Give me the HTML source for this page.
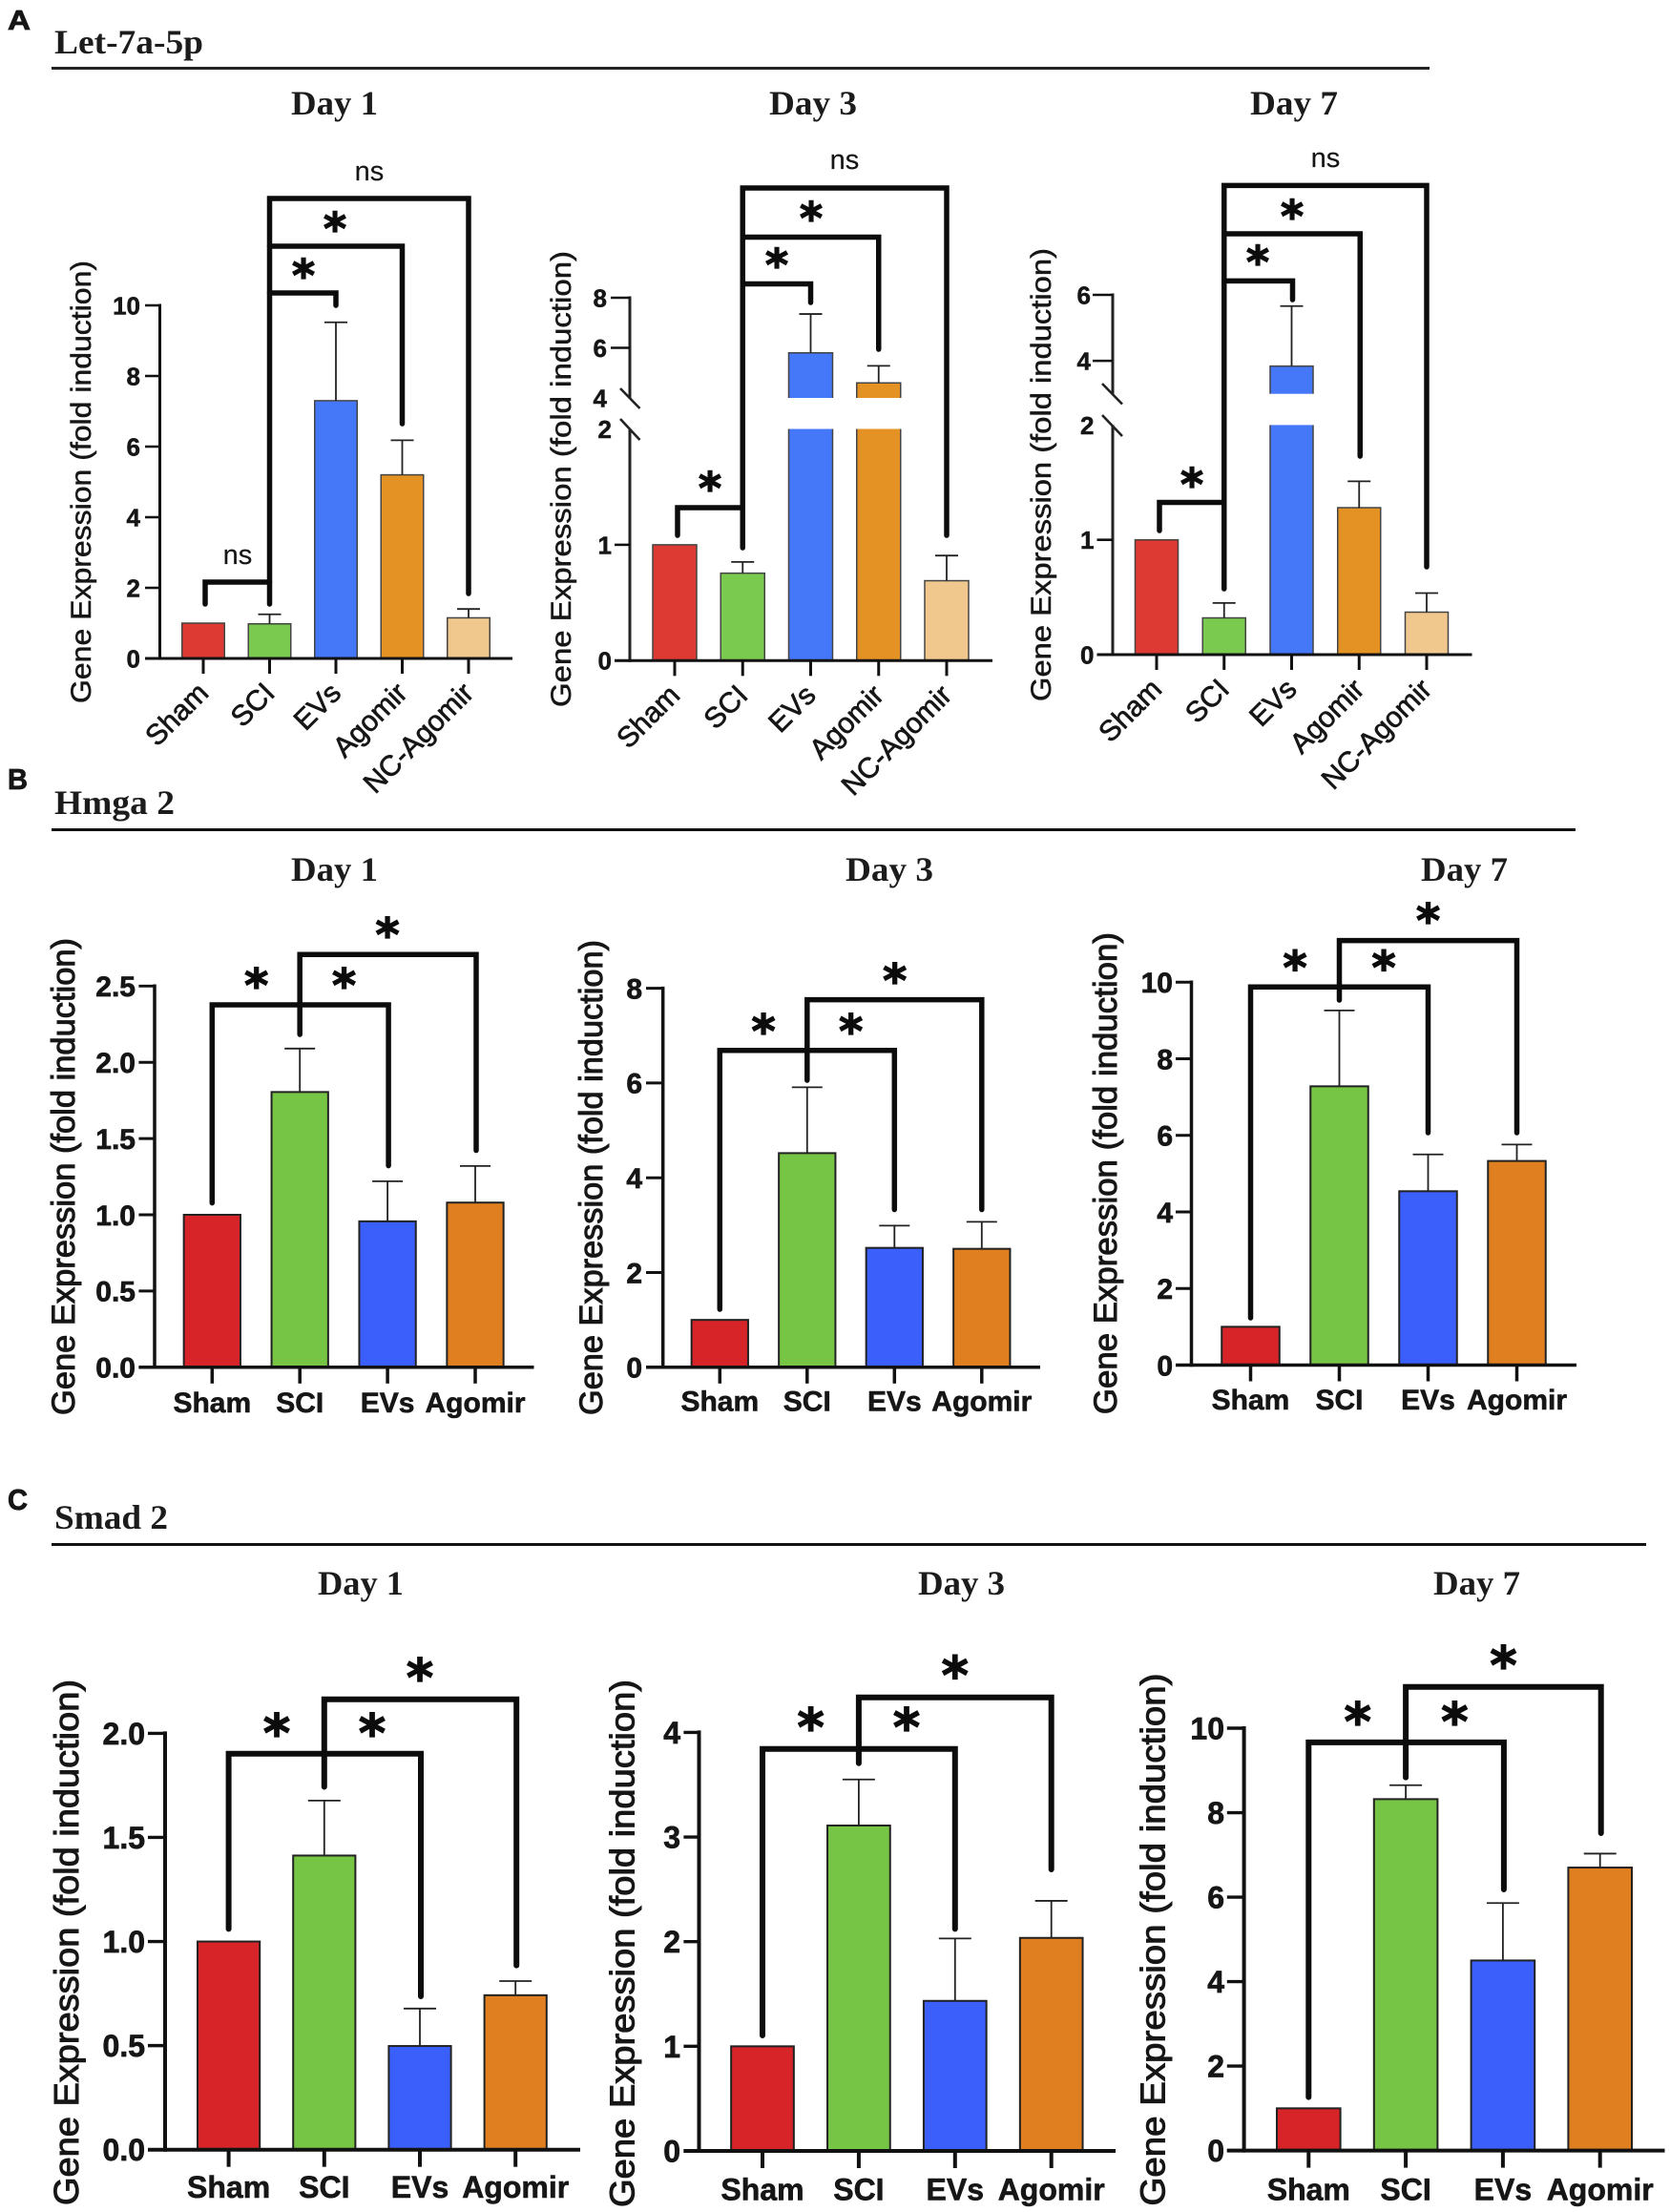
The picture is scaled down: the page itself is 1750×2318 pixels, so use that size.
<!DOCTYPE html>
<html lang="en">
<head>
<meta charset="utf-8">
<title>Gene expression bar charts</title>
<style>
html,body{margin:0;padding:0;background:#fff;}
svg{display:block;}
.serif{font-family:"Liberation Serif",serif;font-weight:bold;fill:#1c1c1c;}
.sans{font-family:"Liberation Sans",sans-serif;fill:#161616;}
</style>
</head>
<body>
<svg id="figure" xmlns="http://www.w3.org/2000/svg" width="1750" height="2318" viewBox="0 0 1750 2318">
  <rect x="0" y="0" width="1750" height="2318" fill="#fff"/>

  <text class="sans" x="8" y="31" font-size="29" font-weight="bold" stroke="#161616" stroke-width="0.8" textLength="24" lengthAdjust="spacingAndGlyphs">A</text>
  <text class="serif" x="57" y="56" font-size="36" textLength="156" lengthAdjust="spacingAndGlyphs">Let-7a-5p</text>
  <rect x="54" y="70" width="1444" height="3" fill="#222"/>
  <text class="serif" x="305" y="120" font-size="36" textLength="91" lengthAdjust="spacingAndGlyphs">Day 1</text>
  <text class="serif" x="806" y="120" font-size="36" textLength="92" lengthAdjust="spacingAndGlyphs">Day 3</text>
  <text class="serif" x="1310" y="120" font-size="36" textLength="92" lengthAdjust="spacingAndGlyphs">Day 7</text>

  <text class="sans" x="8" y="827" font-size="31" font-weight="bold" stroke="#161616" stroke-width="0.8" textLength="21" lengthAdjust="spacingAndGlyphs">B</text>
  <text class="serif" x="57" y="853" font-size="36" textLength="126" lengthAdjust="spacingAndGlyphs">Hmga 2</text>
  <rect x="54" y="868" width="1597" height="3" fill="#111"/>
  <text class="serif" x="305" y="923" font-size="36" textLength="91" lengthAdjust="spacingAndGlyphs">Day 1</text>
  <text class="serif" x="886" y="923" font-size="36" textLength="92" lengthAdjust="spacingAndGlyphs">Day 3</text>
  <text class="serif" x="1489" y="923" font-size="36" textLength="91" lengthAdjust="spacingAndGlyphs">Day 7</text>

  <text class="sans" x="8" y="1582" font-size="31" font-weight="bold" stroke="#161616" stroke-width="0.8" textLength="21" lengthAdjust="spacingAndGlyphs">C</text>
  <text class="serif" x="57" y="1602" font-size="36" textLength="119" lengthAdjust="spacingAndGlyphs">Smad 2</text>
  <rect x="54" y="1617" width="1671" height="3" fill="#111"/>
  <text class="serif" x="333" y="1671" font-size="36" textLength="90" lengthAdjust="spacingAndGlyphs">Day 1</text>
  <text class="serif" x="962" y="1671" font-size="36" textLength="91" lengthAdjust="spacingAndGlyphs">Day 3</text>
  <text class="serif" x="1502" y="1671" font-size="36" textLength="91" lengthAdjust="spacingAndGlyphs">Day 7</text>
</svg>

<script>
// ---- chart data ----
const categoriesFive = ['Sham', 'SCI', 'EVs', 'Agomir', 'NC-Agomir'];
const categoriesFour = ['Sham', 'SCI', 'EVs', 'Agomir'];
const yAxisTitle = 'Gene Expression (fold induction)';

const a1Values = [1, 0.98, 7.3, 5.2, 1.15];
const a1ErrorTops = [1, 1.25, 9.52, 6.18, 1.4];
const a1Ticks = [0, 2, 4, 6, 8, 10];
const a1TickLabels = ['0', '2', '4', '6', '8', '10'];

const a2Values = [1, 0.755, 5.8, 4.6, 0.69];
const a2ErrorTops = [1, 0.852, 7.35, 5.28, 0.907];
const a2Ticks = [0, 1, 2, 4, 6, 8];
const a2TickLabels = ['0', '1', '2', '4', '6', '8'];

const a3Values = [1, 0.32, 3.84, 1.28, 0.37];
const a3ErrorTops = [1, 0.45, 5.66, 1.51, 0.536];
const a3Ticks = [0, 1, 2, 4, 6];
const a3TickLabels = ['0', '1', '2', '4', '6'];

const b1Values = [1, 1.805, 0.957, 1.08];
const b1ErrorTops = [1, 2.09, 1.22, 1.32];
const b1Ticks = [0, 0.5, 1, 1.5, 2, 2.5];
const b1TickLabels = ['0.0', '0.5', '1.0', '1.5', '2.0', '2.5'];

const b2Values = [1, 4.52, 2.52, 2.5];
const b2ErrorTops = [1, 5.91, 2.99, 3.07];
const b2Ticks = [0, 2, 4, 6, 8];
const b2TickLabels = ['0', '2', '4', '6', '8'];

const b3Values = [1, 7.28, 4.54, 5.33];
const b3ErrorTops = [1, 9.26, 5.5, 5.76];
const b3Ticks = [0, 2, 4, 6, 8, 10];
const b3TickLabels = ['0', '2', '4', '6', '8', '10'];

const c1Values = [1, 1.413, 0.498, 0.742];
const c1ErrorTops = [1, 1.677, 0.678, 0.81];
const c1Ticks = [0, 0.5, 1, 1.5, 2];
const c1TickLabels = ['0.0', '0.5', '1.0', '1.5', '2.0'];

const c2Values = [1, 3.11, 1.434, 2.036];
const c2ErrorTops = [1, 3.55, 2.03, 2.39];
const c2Ticks = [0, 1, 2, 3, 4];
const c2TickLabels = ['0', '1', '2', '3', '4'];

const c3Values = [1, 8.32, 4.5, 6.7];
const c3ErrorTops = [1, 8.65, 5.86, 7.03];
const c3Ticks = [0, 2, 4, 6, 8, 10];
const c3TickLabels = ['0', '2', '4', '6', '8', '10'];

// ---- styles and layout ----
const coloursA = ['#dc3a33', '#7bca50', '#4478f8', '#e59224', '#f0c88e'];
const coloursBC = ['#d62428', '#76c544', '#3a5ffa', '#e07f20'];

const rowA = {colours: coloursA, cats: categoriesFive, rotated: true, tickFont: 26, tickStroke: 0.5, catFont: 30, titleFont: 30, titleStroke: 0.5, starFont: 46, axisW: 3, barStroke: 1.5, barEdge: '#444', capHalf: 12, xTick: 16, bracketW: 5.5};
const rowB = {colours: coloursBC, cats: categoriesFour, rotated: false, tickFont: 30, tickStroke: 0.7, catFont: 30, titleFont: 34, titleStroke: 1, starFont: 48, axisW: 3.5, barStroke: 2, barEdge: '#222', capHalf: 16, xTick: 17, bracketW: 5.5};
const rowC = {colours: coloursBC, cats: categoriesFour, rotated: false, tickFont: 32, tickStroke: 0.7, catFont: 32, titleFont: 36, titleStroke: 1, starFont: 54, axisW: 4, barStroke: 2, barEdge: '#222', capHalf: 17, xTick: 18, bracketW: 6};

const panels = [
  {row: rowA, values: a1Values, tops: a1ErrorTops, ticks: a1Ticks, labels: a1TickLabels,
   axisX: 167.5, x0: 213, step: 69.5, barW: 44.5, lineStart: 152, lineEnd: 537, labelRight: 147,
   scales: [{upTo: Infinity, v0: 0, p0: 690, v1: 10, p1: 320}],
   titleX: 87, titleY: 505, titleLen: 464,
   brackets: [
     {a: 1, b: 4, top: 208, aEnd: 633, bEnd: 622},
     {a: 1, b: 3, top: 258, aEnd: 258, bEnd: 444},
     {a: 1, b: 2, top: 307, aEnd: 307, bEnd: 320},
     {a: 0, b: 1, top: 610, aEnd: 633, bEnd: 610, adx: 2}],
   stars: [{x: 318, y: 282}, {x: 351, y: 233}],
   ns: [{x: 387, y: 180}, {x: 249, y: 582}]},
  {row: rowA, values: a2Values, tops: a2ErrorTops, ticks: a2Ticks, labels: a2TickLabels,
   axisX: 660, x0: 707, step: 71.25, barW: 46, lineStart: 644, lineEnd: 1040, labelRight: 641, labelRightUpper: 636,
   tickLeftUpper: 640, noTick: [2, 4],
   scales: [{upTo: 2, v0: 0, p0: 692.3, v1: 2, p1: 449.5}, {upTo: Infinity, v0: 4, p0: 417, v1: 8, p1: 312}],
   breakLow: 2, breakHigh: 4,
   slashes: [{x1: 650, y1: 439, x2: 670.5, y2: 461}, {x1: 650, y1: 407, x2: 670.5, y2: 428}],
   titleX: 590, titleY: 502, titleLen: 478,
   brackets: [
     {a: 1, b: 4, top: 197, aEnd: 574, bEnd: 561},
     {a: 1, b: 3, top: 248.5, aEnd: 248.5, bEnd: 366},
     {a: 1, b: 2, top: 297.5, aEnd: 297.5, bEnd: 317},
     {a: 0, b: 1, top: 532, aEnd: 561, bEnd: 532, adx: 3}],
   stars: [{x: 744, y: 505}, {x: 814, y: 271}, {x: 850, y: 222}],
   ns: [{x: 885, y: 168}]},
  {row: rowA, values: a3Values, tops: a3ErrorTops, ticks: a3Ticks, labels: a3TickLabels,
   axisX: 1166, x0: 1212, step: 70.75, barW: 45, lineStart: 1149.5, lineEnd: 1542.5, labelRight: 1146.5, labelRightUpper: 1143,
   tickLeftUpper: 1145, noTick: [2],
   scales: [{upTo: 2, v0: 0, p0: 686, v1: 2, p1: 445.4}, {upTo: Infinity, v0: 3, p0: 412.7, v1: 6, p1: 309}],
   breakLow: 2, breakHigh: 3,
   slashes: [{x1: 1155, y1: 435, x2: 1176, y2: 457}, {x1: 1155, y1: 402, x2: 1176, y2: 423.5}],
   titleX: 1093, titleY: 497.5, titleLen: 475,
   brackets: [
     {a: 1, b: 4, top: 194.4, aEnd: 617, bEnd: 594},
     {a: 1, b: 3, top: 245, aEnd: 245, bEnd: 478, bdx: 1},
     {a: 1, b: 2, top: 294.4, aEnd: 294.4, bEnd: 314, bdx: 1},
     {a: 0, b: 1, top: 526.5, aEnd: 556, bEnd: 526.5, adx: 3}],
   stars: [{x: 1249, y: 501}, {x: 1318, y: 268}, {x: 1354, y: 220}],
   ns: [{x: 1389, y: 166}]},

  {row: rowB, values: b1Values, tops: b1ErrorTops, ticks: b1Ticks, labels: b1TickLabels,
   axisX: 162, x0: 222.3, step: 91.9, barW: 59.3, lineStart: 145.4, lineEnd: 559.5, labelRight: 142,
   scales: [{upTo: Infinity, v0: 0, p0: 1432.8, v1: 2.5, p1: 1033.3}],
   titleX: 69, titleY: 1233, titleLen: 500, catBase: 1480,
   brackets: [
     {a: 0, b: 2, top: 1053, aEnd: 1260.6, bEnd: 1221.6, bdx: 1},
     {a: 1, b: 3, top: 1000.3, aEnd: 1084, bEnd: 1205.5, bdx: 1}],
   stars: [{x: 268.7, y: 1025.5}, {x: 360.5, y: 1025.5}, {x: 406, y: 972.7}], ns: []},
  {row: rowB, values: b2Values, tops: b2ErrorTops, ticks: b2Ticks, labels: b2TickLabels,
   axisX: 694.7, x0: 754.3, step: 91.5, barW: 59.3, lineStart: 677, lineEnd: 1090, labelRight: 673,
   scales: [{upTo: Infinity, v0: 0, p0: 1432.8, v1: 8, p1: 1035.6}],
   titleX: 621.7, titleY: 1234, titleLen: 498, catBase: 1478.7,
   brackets: [
     {a: 0, b: 2, top: 1100.8, aEnd: 1372, bEnd: 1267.5},
     {a: 1, b: 3, top: 1047.6, aEnd: 1132, bEnd: 1267.5}],
   stars: [{x: 800, y: 1073.7}, {x: 891.7, y: 1073.7}, {x: 937.7, y: 1020.5}], ns: []},
  {row: rowB, values: b3Values, tops: b3ErrorTops, ticks: b3Ticks, labels: b3TickLabels,
   axisX: 1248.5, x0: 1310.5, step: 93, barW: 60.5, lineStart: 1232, lineEnd: 1652, labelRight: 1229,
   scales: [{upTo: Infinity, v0: 0, p0: 1430.5, v1: 10, p1: 1029.2}],
   titleX: 1161, titleY: 1229.6, titleLen: 505, catBase: 1477,
   brackets: [
     {a: 0, b: 2, top: 1034.3, aEnd: 1381, bEnd: 1187},
     {a: 1, b: 3, top: 985.6, aEnd: 1048, bEnd: 1187}],
   stars: [{x: 1357, y: 1007}, {x: 1450, y: 1007}, {x: 1496.5, y: 957.6}], ns: []},

  {row: rowC, values: c1Values, tops: c1ErrorTops, ticks: c1Ticks, labels: c1TickLabels,
   axisX: 173, x0: 239.6, step: 100.2, barW: 65.2, lineStart: 155, lineEnd: 608, labelRight: 152,
   scales: [{upTo: Infinity, v0: 0, p0: 2252.7, v1: 2, p1: 1816.4}],
   titleX: 72.4, titleY: 2035.5, titleLen: 551, catBase: 2303,
   brackets: [
     {a: 0, b: 2, top: 1837.8, aEnd: 2021.4, bEnd: 2092, bdx: 1},
     {a: 1, b: 3, top: 1780.7, aEnd: 1872.5, bEnd: 2059.6, bdx: 1}],
   stars: [{x: 290, y: 1808}, {x: 390, y: 1808}, {x: 440, y: 1750}], ns: []},
  {row: rowC, values: c2Values, tops: c2ErrorTops, ticks: c2Ticks, labels: c2TickLabels,
   axisX: 732.5, x0: 799, step: 100.9, barW: 65.7, lineStart: 716.4, lineEnd: 1169, labelRight: 713,
   scales: [{upTo: Infinity, v0: 0, p0: 2254, v1: 4, p1: 1815.4}],
   titleX: 654.6, titleY: 2036.5, titleLen: 553, catBase: 2305.7,
   brackets: [
     {a: 0, b: 2, top: 1832.8, aEnd: 2133, bEnd: 2021.4},
     {a: 1, b: 3, top: 1778.7, aEnd: 1847.7, bEnd: 1959}],
   stars: [{x: 849.6, y: 1802}, {x: 950, y: 1802}, {x: 1000.7, y: 1747.4}], ns: []},
  {row: rowC, values: c3Values, tops: c3ErrorTops, ticks: c3Ticks, labels: c3TickLabels,
   axisX: 1303.6, x0: 1371.3, step: 101.8, barW: 66.6, lineStart: 1285.8, lineEnd: 1744.5, labelRight: 1283,
   scales: [{upTo: Infinity, v0: 0, p0: 2253.6, v1: 10, p1: 1811}],
   titleX: 1210.7, titleY: 2032.5, titleLen: 558, catBase: 2305.7,
   brackets: [
     {a: 0, b: 2, top: 1825.9, aEnd: 2197.6, bEnd: 1980, bdx: 1},
     {a: 1, b: 3, top: 1767.8, aEnd: 1862.6, bEnd: 1921, bdx: 1}],
   stars: [{x: 1422.7, y: 1796}, {x: 1524.4, y: 1796}, {x: 1575.5, y: 1737}], ns: []}
];

// ---- drawing ----
const NS = 'http://www.w3.org/2000/svg';
const figure = document.getElementById('figure');

function mk(parent, tag, attrs, content) {
  const node = document.createElementNS(NS, tag);
  for (const key in attrs) node.setAttribute(key, attrs[key]);
  if (content !== undefined) node.textContent = content;
  parent.appendChild(node);
  return node;
}

function makeY(p) {
  return function (v) {
    let s = p.scales[p.scales.length - 1];
    for (const c of p.scales) { if (v <= c.upTo) { s = c; break; } }
    return s.p0 + (v - s.v0) * (s.p1 - s.p0) / (s.v1 - s.v0);
  };
}

function drawPanel(p) {
  const r = p.row;
  const y = makeY(p);
  const x = function (i) { return p.x0 + i * p.step; };
  const y0 = y(0);

  const g = mk(figure, 'g', {});
  
  

  p.values.forEach(function (v, i) {
    const bar = mk(g, 'rect', {x: x(i) - p.barW / 2, y: y(v), width: p.barW, height: y0 - y(v), fill: r.colours[i], stroke: r.barEdge, 'stroke-width': r.barStroke});
    
    

    if (p.breakLow !== undefined && v > p.breakLow) {
      const gap = mk(g, 'rect', {x: x(i) - p.barW / 2 - 2, y: y(p.breakHigh), width: p.barW + 4, height: y(p.breakLow) - y(p.breakHigh), fill: '#fff'});
      
      
    }

    if (p.tops[i] > v) {
      const stem = mk(g, 'line', {x1: x(i), x2: x(i), y1: y(v), y2: y(p.tops[i]), stroke: '#222', 'stroke-width': 1.8});
      
      

      const cap = mk(g, 'line', {x1: x(i) - r.capHalf, x2: x(i) + r.capHalf, y1: y(p.tops[i]), y2: y(p.tops[i]), stroke: '#222', 'stroke-width': 1.8});
      
      
    }
  });

  // y axis line(s)
  const maxTick = p.ticks[p.ticks.length - 1];
  if (p.breakLow !== undefined) {
    const lower = mk(g, 'line', {x1: p.axisX, x2: p.axisX, y1: y0 + r.axisW / 2, y2: y(p.breakLow), stroke: '#222', 'stroke-width': r.axisW});
    
    

    const upper = mk(g, 'line', {x1: p.axisX, x2: p.axisX, y1: y(p.breakHigh), y2: y(maxTick) - r.axisW / 2, stroke: '#222', 'stroke-width': r.axisW});
    
    

    p.slashes.forEach(function (s) {
      const slash = mk(g, 'line', {x1: s.x1, y1: s.y1, x2: s.x2, y2: s.y2, stroke: '#222', 'stroke-width': 2.6});
      
      
    });
  } else {
    const axis = mk(g, 'line', {x1: p.axisX, x2: p.axisX, y1: y0 + r.axisW / 2, y2: y(maxTick) - r.axisW / 2, stroke: '#111', 'stroke-width': r.axisW});
    
    
  }

  // y ticks
  p.ticks.forEach(function (t, i) {
    const isUpper = p.breakLow !== undefined && t > p.breakLow;
    const left = isUpper ? p.tickLeftUpper : p.lineStart;
    const right = isUpper ? p.labelRightUpper : p.labelRight;
    if (!(p.noTick && p.noTick.indexOf(t) >= 0)) {
      const tick = mk(g, 'line', {x1: left, x2: p.axisX, y1: y(t), y2: y(t), stroke: '#111', 'stroke-width': r.axisW * 0.85});
      
      
    }
    const label = mk(g, 'text', {x: right, y: y(t) + r.tickFont * 0.36, 'text-anchor': 'end', 'font-size': r.tickFont, 'font-weight': 'bold', class: 'sans', stroke: '#161616', 'stroke-width': r.tickStroke}, p.labels[i]);
    
    
  });

  // x axis
  const xAxis = mk(g, 'line', {x1: p.lineStart, x2: p.lineEnd, y1: y0, y2: y0, stroke: '#111', 'stroke-width': r.axisW});
  
  

  r.cats.forEach(function (c, i) {
    const tick = mk(g, 'line', {x1: x(i), x2: x(i), y1: y0, y2: y0 + r.xTick, stroke: '#111', 'stroke-width': r.axisW});
    
    

    if (r.rotated) {
      const ex = x(i) + 7;
      const ey = y0 + 38;
      const label = mk(g, 'text', {x: ex, y: ey, 'text-anchor': 'end', 'font-size': r.catFont, transform: 'rotate(-45 ' + ex + ' ' + ey + ')', class: 'sans', stroke: '#161616', 'stroke-width': 0.7}, c);
      
      
    } else {
      const label = mk(g, 'text', {x: x(i), y: p.catBase, 'text-anchor': 'middle', 'font-size': r.catFont, 'font-weight': 'bold', class: 'sans', stroke: '#161616', 'stroke-width': 0.6}, c);
      
      
    }
  });

  // y axis title
  const bx = p.titleX + r.titleFont * 0.27;
  const title = mk(g, 'text', {x: bx, y: p.titleY, 'text-anchor': 'middle', 'font-size': r.titleFont, textLength: p.titleLen, lengthAdjust: 'spacingAndGlyphs', transform: 'rotate(-90 ' + bx + ' ' + p.titleY + ')', class: 'sans', stroke: '#161616', 'stroke-width': r.titleStroke}, yAxisTitle);
  
  

  // significance brackets
  p.brackets.forEach(function (b) {
    const xa = x(b.a) + (b.adx || 0);
    const xb = x(b.b) + (b.bdx || 0);
    const d = 'M' + xa + ' ' + b.aEnd + 'V' + b.top + 'H' + xb + 'V' + b.bEnd;
    const path = mk(g, 'path', {d: d, fill: 'none', stroke: '#0c0c0c', 'stroke-width': r.bracketW, 'stroke-linejoin': 'miter', 'stroke-linecap': 'round'});
    
    
  });

  p.stars.forEach(function (s) {
    const star = mk(g, 'text', {x: s.x, y: s.y + r.starFont * 0.5, 'text-anchor': 'middle', 'font-size': r.starFont, 'font-weight': 'bold', 'font-family': '"DejaVu Sans",sans-serif', fill: '#0c0c0c', stroke: '#0c0c0c', 'stroke-width': 1.3}, '*');
    
    
  });

  p.ns.forEach(function (s) {
    const ns = mk(g, 'text', {x: s.x, y: s.y + 9, 'text-anchor': 'middle', 'font-size': 29, class: 'sans', stroke: '#161616', 'stroke-width': 0.2}, 'ns');
    
    
  });
}

panels.forEach(drawPanel);
</script>
</body>
</html>
